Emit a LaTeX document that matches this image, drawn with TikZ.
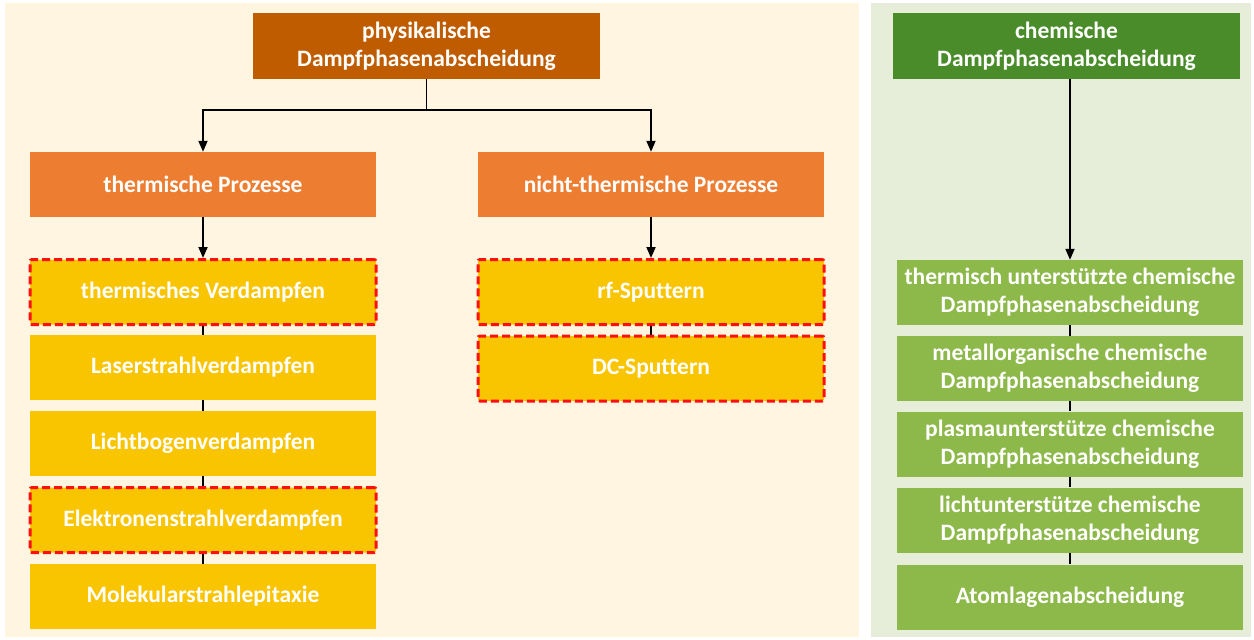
\documentclass[tikz,border=0pt]{standalone}
\usepackage{fontspec}
\setmainfont[Ligatures={NoCommon}]{Carlito}
\usetikzlibrary{arrows.meta}
\definecolor{panelL}{HTML}{FFF5E0}
\definecolor{panelR}{HTML}{E6EEDA}
\definecolor{physC}{HTML}{BF5C00}
\definecolor{procC}{HTML}{ED7D31}
\definecolor{yelC}{HTML}{F9C400}
\definecolor{chemC}{HTML}{4A8C2A}
\definecolor{lgreenC}{HTML}{8DB84A}
\definecolor{redC}{HTML}{FF1010}
\tikzset{
  box/.style={inner sep=0pt, align=center, text=white,
    font=\fontsize{23.5}{28}\selectfont\bfseries,
    minimum width=346pt, minimum height=65pt},
  physbox/.style={box, fill=physC, minimum width=347pt, minimum height=66pt},
  procbox/.style={box, fill=procC},
  yelbox/.style={box, fill=yelC},
  chembox/.style={box, fill=chemC, minimum width=347pt, minimum height=66pt},
  gbox/.style={box, fill=lgreenC, minimum width=346pt},
  hilite/.style={draw=redC, line width=3pt, dash pattern=on 8pt off 4pt, rounded corners=2pt},
  conn/.style={draw=black, line width=1.8pt},
  arr/.style={conn, -{Triangle[width=9pt,length=11pt]}}
}
\begin{document}
\begin{tikzpicture}[x=1pt,y=-1pt]
\useasboundingbox (0,0) rectangle (1254,640);
% panels
\fill[panelL] (5,3) rectangle (859,637);
\fill[panelR] (871,3) rectangle (1251,637);

% physical branch
\node[physbox] (phys) at (426.5,46) {physikalische\\Dampfphasenabscheidung};
\node[procbox] (therm) at (203,184.5) {thermische Prozesse};
\node[procbox] (nth) at (651,184.5) {nicht-thermische Prozesse};

\node[yelbox, hilite] (tv) at (203,292) {thermisches Verdampfen};
\node[yelbox] (lsv) at (203,367.5) {Laserstrahlverdampfen};
\node[yelbox] (lbv) at (203,443.5) {Lichtbogenverdampfen};
\node[yelbox, hilite] (esv) at (203,520) {Elektronenstrahlverdampfen};
\node[yelbox] (mbe) at (203,596.5) {Molekularstrahlepitaxie};

\node[yelbox, hilite] (rf) at (651,292) {rf-Sputtern};
\node[yelbox, hilite] (dc) at (651,368.5) {DC-Sputtern};

% chemical branch
\node[chembox] (chem) at (1066.5,46) {chemische\\Dampfphasenabscheidung};
\node[gbox] (tcvd) at (1070,292.5) {thermisch unterstützte chemische\\Dampfphasenabscheidung};
\node[gbox] (mocvd) at (1070,368.5) {metallorganische chemische\\Dampfphasenabscheidung};
\node[gbox] (pcvd) at (1070,444) {plasmaunterstütze chemische\\Dampfphasenabscheidung};
\node[gbox] (lcvd) at (1070,520) {lichtunterstütze chemische\\Dampfphasenabscheidung};
\node[gbox] (ald) at (1070,597) {Atomlagenabscheidung};

% connectors
\coordinate (split) at (426.5,110);
\draw[conn] (phys.south) -- (split);
\draw[arr] (split) -| (therm.north);
\draw[arr] (split) -| (nth.north);
\draw[arr] (therm.south) -- (tv.north);
\draw[arr] (nth.south) -- (rf.north);
\draw[conn] (tv.south) -- (lsv.north);
\draw[conn] (lsv.south) -- (lbv.north);
\draw[conn] (lbv.south) -- (esv.north);
\draw[conn] (esv.south) -- (mbe.north);
\draw[conn] (rf.south) -- (dc.north);

\draw[arr] (chem.south -| tcvd.north) -- (tcvd.north);
\draw[conn] (tcvd.south) -- (mocvd.north);
\draw[conn] (mocvd.south) -- (pcvd.north);
\draw[conn] (pcvd.south) -- (lcvd.north);
\draw[conn] (lcvd.south) -- (ald.north);
\end{tikzpicture}
\end{document}
